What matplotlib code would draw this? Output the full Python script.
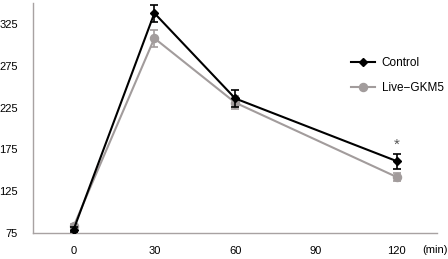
# Blood glucose time course, Control vs Live-GKM5

import matplotlib
matplotlib.use('Agg')
import matplotlib.pyplot as plt
import matplotlib.transforms as mtransforms

plt.rcParams['font.family'] = ['Liberation Sans', 'DejaVu Sans']

time_min = [0, 30, 60, 120]
control = [79, 338, 236, 161]
control_err = [3, 10, 10, 9]
live = [83, 308, 231, 142]
live_err = [3, 10, 8, 5]
x_ticks = [0, 30, 60, 90, 120]
y_ticks = [75, 125, 175, 225, 275, 325]

gray = '#a29c9c'

fig = plt.figure(figsize=(4.48, 2.59), dpi=100)
ax = fig.add_axes([0.074, 0.1, 0.902, 0.888])

c = ax.errorbar(time_min, control, yerr=control_err, color='black', marker='D', markersize=4.5,
                lw=1.5, capsize=3, elinewidth=1.2, capthick=1.2, zorder=3)
l = ax.errorbar(time_min, live, yerr=live_err, color=gray, marker='o', markersize=5.8,
                lw=1.5, capsize=3, elinewidth=1.2, capthick=1.2, zorder=2)

# significance mark at 120 min
ax.text(120, control[3] + control_err[3] + 2, '*', ha='center', va='bottom', fontsize=11, color='#555555')

ax.set_xlim(-15, 135)
ax.set_ylim(75, 350)
ax.set_xticks(x_ticks)
ax.set_yticks(y_ticks)
ax.tick_params(length=0, labelsize=8, pad=9)
ax.tick_params(axis='y', pad=11)
for s in ['top', 'right']:
    ax.spines[s].set_visible(False)
for s in ['left', 'bottom']:
    ax.spines[s].set_color('#a8a2a2')
    ax.spines[s].set_linewidth(1)

trans = mtransforms.blended_transform_factory(ax.transData, ax.transAxes)
ax.text(129.5, -0.05, '(min)', transform=trans, ha='left', va='top', fontsize=8)

leg = ax.legend([c[0], l[0]], ['Control', 'Live\u2212GKM5'], loc='upper left',
                bbox_to_anchor=(0.787, 0.767), borderpad=0, borderaxespad=0,
                frameon=False, fontsize=8.5, handlelength=2.0, handletextpad=0.6,
                labelspacing=1.1)

fig.savefig('out.png', dpi=100)
